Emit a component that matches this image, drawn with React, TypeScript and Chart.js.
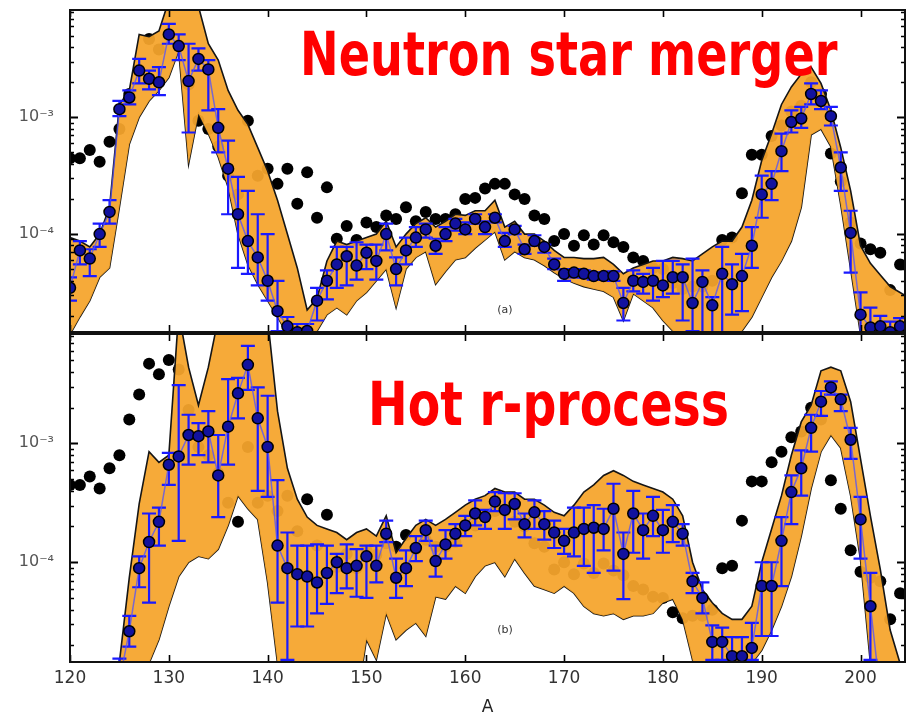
import React, { useEffect, useRef } from "react";
import { Chart, registerables } from "chart.js";
Chart.register(...registerables);

// Mass numbers
const A = [
  120, 121, 122, 123, 124, 125, 126, 127, 128, 129,
  130, 131, 132, 133, 134, 135, 136, 137, 138, 139,
  140, 141, 142, 143, 144, 145, 146, 147, 148, 149,
  150, 151, 152, 153, 154, 155, 156, 157, 158, 159,
  160, 161, 162, 163, 164, 165, 166, 167, 168, 169,
  170, 171, 172, 173, 174, 175, 176, 177, 178, 179,
  180, 181, 182, 183, 184, 185, 186, 187, 188, 189,
  190, 191, 192, 193, 194, 195, 196, 197, 198, 199,
  200, 201, 202, 203, 204, 205,
];
const xTicks = [120, 130, 140, 150, 160, 170, 180, 190, 200];

// All abundances below are log10(Y)
const solarLog = [
  -3.35, -3.35, -3.28, -3.38, -3.21, -3.10, -2.80, -2.59, -2.33, -2.42,
  -2.30, -2.38, -2.72, -3.03, -3.10, -3.25, -3.50, -3.66, -3.03, -3.50,
  -3.44, -3.57, -3.44, -3.74, -3.47, -3.86, -3.60, -4.04, -3.93, -4.05,
  -3.90, -3.94, -3.84, -3.87, -3.77, -3.89, -3.81, -3.87, -3.87, -3.83,
  -3.70, -3.69, -3.61, -3.57, -3.57, -3.66, -3.70, -3.84, -3.87, -4.06,
  -4.00, -4.10, -4.01, -4.09, -4.01, -4.07, -4.11, -4.20, -4.23, -4.29,
  -4.30, -4.42, -4.47, -4.45, -4.45, -4.40, -4.05, -4.03, -3.65, -3.32,
  -3.32, -3.16, -3.07, -2.95, -2.90, -2.70, -2.80, -3.31, -3.55, -3.90,
  -4.08, -4.13, -4.16, -4.48, -4.26, null,
];

// (a) Neutron star merger
const topBandHiLog = [
  -4.03, -4.06, -4.11, -4.00, -3.77, -2.89, -2.77, -2.29, -2.31, -2.26,
  -2.00, -1.90, -1.90, -2.05, -2.37, -2.51, -2.77, -2.94, -3.06, -3.26,
  -3.46, -3.71, -4.00, -4.29, -4.65, -4.55, -4.23, -4.06, -4.09, -4.06,
  -4.03, -4.00, -3.89, -4.11, -4.00, -3.91, -3.86, -3.94, -3.89, -3.83,
  -3.84, -3.80, -3.80, -3.71, -3.94, -3.89, -4.00, -4.00, -4.06, -4.14,
  -4.20, -4.20, -4.21, -4.21, -4.20, -4.26, -4.34, -4.29, -4.26, -4.23,
  -4.23, -4.20, -4.21, -4.23, -4.17, -4.11, -4.06, -4.06, -3.94, -3.71,
  -3.37, -3.14, -2.89, -2.74, -2.63, -2.57, -2.71, -2.94, -3.26, -3.63,
  -4.10, -4.25, -4.35, -4.45, -4.50, -4.55,
];
const topBandLoLog = [
  -4.86, -4.71, -4.57, -4.37, -4.29, -3.77, -3.23, -3.00, -2.86, -2.77,
  -2.66, -2.43, -3.40, -2.97, -3.14, -3.34, -3.60, -4.00, -4.26, -4.43,
  -4.57, -4.71, -4.86, -5.10, -5.10, -4.83, -4.69, -4.63, -4.69, -4.57,
  -4.50, -4.40, -4.30, -4.63, -4.30, -4.20, -4.15, -4.43, -4.32, -4.22,
  -4.20, -4.12, -4.05, -3.98, -4.22, -4.15, -4.20, -4.22, -4.27, -4.33,
  -4.38, -4.42, -4.45, -4.47, -4.49, -4.54, -4.74, -4.51, -4.57, -4.63,
  -4.74, -4.83, -5.10, -5.10, -5.10, -5.10, -5.10, -5.10, -4.83, -4.71,
  -4.54, -4.37, -4.23, -4.06, -3.77, -3.15, -3.10, -3.25, -3.75, -4.30,
  -4.86, -5.10, -5.10, -5.10, -5.10, -5.10,
];
const topModelLog = [
  -4.46, -4.14, -4.21, -4.00, -3.81, -2.93, -2.83, -2.60, -2.67, -2.70,
  -2.29, -2.39, -2.69, -2.50, -2.59, -3.09, -3.44, -3.83, -4.06, -4.20,
  -4.40, -4.66, -4.79, -4.84, -4.83, -4.57, -4.40, -4.26, -4.19, -4.27,
  -4.16, -4.23, -4.00, -4.30, -4.14, -4.03, -3.96, -4.10, -4.00, -3.91,
  -3.96, -3.87, -3.94, -3.86, -4.06, -3.96, -4.13, -4.06, -4.11, -4.26,
  -4.34, -4.33, -4.34, -4.36, -4.36, -4.36, -4.59, -4.40, -4.41, -4.40,
  -4.44, -4.37, -4.37, -4.59, -4.41, -4.61, -4.34, -4.43, -4.36, -4.10,
  -3.66, -3.57, -3.29, -3.04, -3.01, -2.80, -2.86, -2.99, -3.43, -3.99,
  -4.69, -4.80, -4.79, -4.84, -4.79, null,
];
const topErrHiLog = [
  -4.37, -4.06, -4.13, -3.91, -3.71, -2.86, -2.77, -2.50, -2.60, -2.57,
  -2.20, -2.29, -2.37, -2.41, -2.51, -2.93, -3.20, -3.51, -3.63, -3.83,
  -4.00, -4.40, -4.71, -4.77, -4.77, -4.46, -4.31, -4.11, -4.11, -4.07,
  -4.09, -4.09, -3.91, -4.20, -4.03, -3.94, -3.91, -4.04, -3.94, -3.87,
  -3.90, -3.83, -3.89, -3.83, -3.99, -3.93, -4.09, -4.01, -4.09, -4.21,
  -4.30, -4.30, -4.31, -4.33, -4.33, -4.32, -4.46, -4.31, -4.34, -4.29,
  -4.23, -4.23, -4.26, -4.21, -4.31, -4.54, -4.11, -4.26, -4.17, -3.94,
  -3.50, -3.46, -3.14, -2.94, -2.91, -2.71, -2.77, -2.91, -3.30, -3.80,
  -4.50, -4.63, -4.70, -4.75, -4.72, null,
];
const topErrLoLog = [
  -4.57, -4.26, -4.36, -4.11, -3.91, -2.99, -2.89, -2.71, -2.76, -2.81,
  -2.37, -2.51, -3.13, -2.60, -2.94, -3.30, -3.83, -4.29, -4.34, -4.44,
  -4.57, -4.83, -5.00, -5.00, -5.00, -4.74, -4.56, -4.46, -4.44, -4.39,
  -4.30, -4.39, -4.14, -4.44, -4.26, -4.11, -4.03, -4.17, -4.06, -3.97,
  -4.00, -3.91, -4.00, -3.90, -4.11, -4.00, -4.17, -4.10, -4.16, -4.30,
  -4.40, -4.37, -4.37, -4.39, -4.39, -4.40, -4.74, -4.49, -4.51, -4.57,
  -4.54, -4.51, -4.74, -4.83, -4.86, -4.84, -4.90, -4.69, -4.66, -4.29,
  -3.86, -3.71, -3.46, -3.13, -3.09, -2.89, -2.93, -3.07, -3.63, -4.33,
  -4.86, -5.00, -5.00, -5.00, -5.00, null,
];

// (b) Hot r-process
const botBandHiLog = [
  -5.20, -5.20, -5.20, -5.20, -5.10, -4.84, -4.13, -3.51, -3.07, -3.16,
  -3.10, -1.90, -2.36, -2.68, -2.36, -1.95, -1.90, -1.90, -1.90, -1.90,
  -1.95, -2.73, -3.21, -3.47, -3.62, -3.69, -3.72, -3.75, -3.81, -3.75,
  -3.72, -3.78, -3.61, -3.92, -3.80, -3.69, -3.64, -3.69, -3.64, -3.58,
  -3.52, -3.47, -3.44, -3.38, -3.41, -3.41, -3.47, -3.47, -3.52, -3.58,
  -3.61, -3.52, -3.41, -3.35, -3.27, -3.23, -3.27, -3.32, -3.35, -3.38,
  -3.41, -3.47, -3.61, -4.00, -4.23, -4.34, -4.43, -4.48, -4.48, -4.37,
  -4.00, -3.72, -3.44, -3.10, -2.82, -2.68, -2.39, -2.36, -2.39, -2.65,
  -3.13, -3.61, -4.06, -4.57, -4.85, -5.00,
];
const botBandLoLog = [
  -5.20, -5.20, -5.20, -5.20, -5.20, -5.20, -5.20, -5.20, -4.85, -4.65,
  -4.37, -4.12, -4.00, -3.95, -3.97, -3.89, -3.69, -3.44, -3.55, -3.64,
  -4.17, -4.85, -5.20, -5.20, -5.20, -5.20, -5.20, -5.20, -5.20, -5.20,
  -4.65, -4.82, -4.43, -4.65, -4.57, -4.51, -4.62, -4.29, -4.31, -4.20,
  -4.26, -4.12, -4.03, -4.00, -4.12, -3.97, -4.09, -4.20, -4.23, -4.26,
  -4.20, -4.26, -4.37, -4.43, -4.45, -4.43, -4.48, -4.45, -4.45, -4.43,
  -4.34, -4.31, -4.48, -4.82, -5.20, -5.20, -5.20, -5.20, -5.20, -4.85,
  -4.74, -4.57, -4.37, -4.12, -3.78, -3.38, -3.07, -2.93, -3.04, -3.44,
  -3.98, -4.85, -5.20, -5.20, -5.20, -5.20,
];
const botModelLog = [
  null, null, null, null, -5.20, -5.00, -4.58, -4.05, -3.83, -3.66,
  -3.18, -3.11, -2.93, -2.94, -2.90, -3.27, -2.86, -2.58, -2.34, -2.79,
  -3.03, -3.86, -4.05, -4.10, -4.12, -4.17, -4.09, -4.00, -4.05, -4.03,
  -3.95, -4.03, -3.76, -4.13, -4.05, -3.88, -3.73, -3.99, -3.85, -3.76,
  -3.69, -3.59, -3.62, -3.49, -3.56, -3.51, -3.68, -3.58, -3.68, -3.75,
  -3.82, -3.75, -3.72, -3.71, -3.72, -3.55, -3.93, -3.59, -3.73, -3.61,
  -3.73, -3.66, -3.76, -4.16, -4.30, -4.67, -4.67, -4.79, -4.79, -4.72,
  -4.20, -4.20, -3.82, -3.41, -3.21, -2.87, -2.65, -2.53, -2.63, -2.97,
  -3.64, -4.37, -5.10, null, null, null,
];
const botErrHiLog = [
  null, null, null, null, null, -4.81, -4.45, -3.95, -3.59, -3.54,
  -3.08, -2.51, -2.76, -2.83, -2.73, -2.93, -2.46, -2.45, -2.18, -2.53,
  -2.60, -3.31, -3.75, -3.86, -3.86, -3.85, -3.86, -3.93, -3.85, -3.89,
  -3.86, -3.86, -3.65, -3.97, -3.90, -3.78, -3.65, -3.86, -3.73, -3.68,
  -3.61, -3.48, -3.56, -3.41, -3.42, -3.42, -3.59, -3.48, -3.57, -3.65,
  -3.72, -3.54, -3.54, -3.52, -3.55, -3.34, -3.75, -3.40, -3.59, -3.45,
  -3.56, -3.52, -3.68, -4.09, -4.17, -4.53, -4.55, -4.63, -4.63, -4.51,
  -4.00, -4.00, -3.62, -3.27, -3.06, -2.76, -2.56, -2.48, -2.59, -2.87,
  -3.45, -4.09, null, null, null, null,
];
const botErrLoLog = [
  null, null, null, null, null, -5.20, -4.71, -4.21, -4.34, -3.86,
  -3.35, -3.82, -3.18, -3.10, -3.16, -3.62, -3.18, -2.79, -2.55, -3.40,
  -3.45, -4.34, -4.82, -4.54, -4.54, -4.43, -4.35, -4.26, -4.22, -4.29,
  -4.30, -4.17, -3.83, -4.30, -4.20, -3.99, -3.82, -4.12, -3.97, -3.86,
  -3.78, -3.69, -3.72, -3.57, -3.72, -3.64, -3.79, -3.72, -3.81, -3.88,
  -3.93, -3.95, -4.03, -4.09, -3.90, -4.07, -4.31, -3.92, -3.97, -3.78,
  -3.92, -3.83, -3.86, -4.26, -4.43, -4.82, -4.82, -4.86, -4.86, -4.82,
  -4.62, -4.62, -4.20, -3.68, -3.44, -3.07, -2.77, -2.59, -2.73, -3.13,
  -3.97, -4.82, null, null, null, null,
];

const Y_MIN = 1.45e-5;
const Y_MAX = 8.3e-3;
const X_MIN = 120;
const X_MAX = 204.5;

const SUP: Record<string, string> = {
  "-": "\u207B", "0": "\u2070", "1": "\u00B9", "2": "\u00B2", "3": "\u00B3",
  "4": "\u2074", "5": "\u2075", "6": "\u2076", "7": "\u2077", "8": "\u2078", "9": "\u2079",
};
const powLabel = (v: number) => {
  const e = Math.log10(v);
  const r = Math.round(e);
  if (Math.abs(e - r) > 1e-6) return "";
  return "10" + String(r).split("").map((c) => SUP[c] || c).join("");
};

const toPoints = (vals: (number | null)[]) =>
  A.map((a, i) => (vals[i] == null ? null : { x: a, y: Math.pow(10, vals[i] as number) })).filter(
    (p) => p !== null
  ) as { x: number; y: number }[];

const framePlugin = {
  id: "frameTicks",
  afterDraw(chart: any) {
    const { ctx, chartArea, scales } = chart;
    const { left, right, top, bottom } = chartArea;
    const x = scales.x;
    const y = scales.y;
    ctx.save();
    ctx.strokeStyle = "#000";
    ctx.lineWidth = 1.6;
    ctx.beginPath();
    for (const v of xTicks) {
      const px = Math.round(x.getPixelForValue(v)) + 0.5;
      ctx.moveTo(px, bottom);
      ctx.lineTo(px, bottom - 7);
      ctx.moveTo(px, top);
      ctx.lineTo(px, top + 7);
    }
    ctx.stroke();
    for (let e = -6; e <= -1; e++) {
      for (let m = 1; m <= 9; m++) {
        const v = m * Math.pow(10, e);
        if (v < y.min || v > y.max) continue;
        const py = Math.round(y.getPixelForValue(v)) + 0.5;
        const len = m === 1 ? 8 : 4;
        ctx.lineWidth = m === 1 ? 2.2 : 1.3;
        ctx.beginPath();
        ctx.moveTo(left, py);
        ctx.lineTo(left + len, py);
        ctx.moveTo(right, py);
        ctx.lineTo(right - len, py);
        ctx.stroke();
      }
    }
    ctx.lineWidth = 2;
    ctx.strokeStyle = "#111";
    ctx.strokeRect(left, top, right - left, bottom - top);
    ctx.restore();
  },
};

const makeErrorPlugin = (hi: (number | null)[], lo: (number | null)[]) => ({
  id: "errorBars",
  beforeDatasetDraw(chart: any, args: any) {
    if (args.index !== 0) return;
    const { ctx, chartArea, scales } = chart;
    const x = scales.x;
    const y = scales.y;
    ctx.save();
    ctx.beginPath();
    ctx.rect(chartArea.left, chartArea.top, chartArea.right - chartArea.left, chartArea.bottom - chartArea.top);
    ctx.clip();
    ctx.strokeStyle = "#1a1aff";
    ctx.lineWidth = 2.2;
    A.forEach((a, i) => {
      if (hi[i] == null || lo[i] == null) return;
      const px = x.getPixelForValue(a);
      const y1 = y.getPixelForValue(Math.pow(10, hi[i] as number));
      const y2 = y.getPixelForValue(Math.pow(10, lo[i] as number));
      ctx.beginPath();
      ctx.moveTo(px, y1);
      ctx.lineTo(px, y2);
      ctx.moveTo(px - 7, y1);
      ctx.lineTo(px + 7, y1);
      ctx.moveTo(px - 7, y2);
      ctx.lineTo(px + 7, y2);
      ctx.stroke();
    });
    ctx.restore();
  },
});

function makeConfig(opts: {
  model: (number | null)[];
  bandHi: (number | null)[];
  bandLo: (number | null)[];
  errHi: (number | null)[];
  errLo: (number | null)[];
  padTop: number;
  padBottom: number;
  showX: boolean;
}): any {
  return {
    type: "line",
    data: {
      datasets: [
        {
          label: "model",
          data: toPoints(opts.model),
          showLine: true,
          borderColor: "rgba(80,80,255,0.75)",
          borderWidth: 1.5,
          pointRadius: 5.5,
          pointBackgroundColor: "#12129e",
          pointBorderColor: "#000",
          pointBorderWidth: 1.5,
          fill: false,
          order: 0,
        },
        {
          label: "band-hi",
          data: toPoints(opts.bandHi),
          showLine: true,
          borderColor: "#151515",
          borderWidth: 1.6,
          pointRadius: 0,
          fill: "+1",
          backgroundColor: "rgba(245,165,45,0.94)",
          order: 2,
        },
        {
          label: "band-lo",
          data: toPoints(opts.bandLo),
          showLine: true,
          borderColor: "#151515",
          borderWidth: 1.6,
          pointRadius: 0,
          fill: false,
          order: 3,
        },
        {
          label: "solar",
          data: toPoints(solarLog),
          showLine: false,
          pointRadius: 6,
          pointBackgroundColor: "#000",
          pointBorderWidth: 0,
          fill: false,
          order: 4,
        },
      ],
    },
    options: {
      responsive: false,
      animation: false,
      devicePixelRatio: 1,
      events: [],
      layout: { padding: { top: opts.padTop, bottom: opts.padBottom, left: 0, right: 2 } },
      elements: { line: { tension: 0 } },
      plugins: { legend: { display: false }, tooltip: { enabled: false }, title: { display: false } },
      scales: {
        x: {
          type: "linear",
          min: X_MIN,
          max: X_MAX,
          display: opts.showX,
          afterFit: (s: any) => {
            s.height = opts.showX ? 57 : 0;
            s.paddingLeft = 0;
            s.paddingRight = 0;
            s.paddingTop = 0;
            s.paddingBottom = 0;
          },
          grid: { display: false, drawTicks: false },
          border: { display: false },
          ticks: {
            stepSize: 10,
            includeBounds: false,
            padding: 6,
            color: "#333",
            font: { family: "DejaVu Sans", size: 17 },
          },
          title: {
            display: opts.showX,
            text: "A",
            color: "#222",
            font: { family: "DejaVu Sans", size: 17 },
            padding: { top: 0, bottom: 1 },
          },
        },
        y: {
          type: "logarithmic",
          min: Y_MIN,
          max: Y_MAX,
          afterFit: (s: any) => {
            s.width = 70;
            s.paddingTop = 0;
            s.paddingBottom = 0;
            s.paddingLeft = 0;
            s.paddingRight = 0;
          },
          grid: { display: false, drawTicks: false },
          border: { display: false },
          ticks: {
            autoSkip: false,
            padding: 16,
            color: "#555",
            font: { family: "DejaVu Sans", size: 16 },
            callback: (v: any) => powLabel(Number(v)),
          },
        },
      },
    },
    plugins: [framePlugin, makeErrorPlugin(opts.errHi, opts.errLo)],
  };
}

const redTitle: React.CSSProperties = {
  position: "absolute",
  fontFamily: "DejaVu Sans",
  fontWeight: "bold",
  fontSize: 60,
  lineHeight: "60px",
  color: "#ff0000",
  whiteSpace: "nowrap",
  transformOrigin: "left top",
};
const panelTag: React.CSSProperties = {
  position: "absolute",
  fontFamily: "DejaVu Sans",
  fontSize: 11,
  lineHeight: "12px",
  color: "#333",
  width: 40,
  textAlign: "center",
};

export default function App() {
  const topRef = useRef<HTMLCanvasElement>(null);
  const botRef = useRef<HTMLCanvasElement>(null);

  useEffect(() => {
    const top = new Chart(
      topRef.current as HTMLCanvasElement,
      makeConfig({
        model: topModelLog,
        bandHi: topBandHiLog,
        bandLo: topBandLoLog,
        errHi: topErrHiLog,
        errLo: topErrLoLog,
        padTop: 10,
        padBottom: 719 - 332,
        showX: false,
      })
    );
    const bot = new Chart(
      botRef.current as HTMLCanvasElement,
      makeConfig({
        model: botModelLog,
        bandHi: botBandHiLog,
        bandLo: botBandLoLog,
        errHi: botErrHiLog,
        errLo: botErrLoLog,
        padTop: 334,
        padBottom: 0,
        showX: true,
      })
    );
    return () => {
      top.destroy();
      bot.destroy();
    };
  }, []);

  return (
    <div
      style={{
        position: "absolute",
        left: 0,
        top: 0,
        width: 912,
        height: 719,
        background: "#fff",
        overflow: "hidden",
      }}
    >
      <canvas ref={topRef} width={912} height={719} style={{ position: "absolute", left: 0, top: 0, width: 912, height: 719 }} />
      <canvas ref={botRef} width={912} height={719} style={{ position: "absolute", left: 0, top: 0, width: 912, height: 719 }} />
      <div style={{ ...redTitle, left: 300, top: 24, transform: "scaleX(0.77)" }}>Neutron star merger</div>
      <div style={{ ...redTitle, left: 368, top: 374, transform: "scaleX(0.79)" }}>Hot r-process</div>
      <div style={{ ...panelTag, left: 485, top: 304 }}>(a)</div>
      <div style={{ ...panelTag, left: 485, top: 624 }}>(b)</div>
    </div>
  );
}
